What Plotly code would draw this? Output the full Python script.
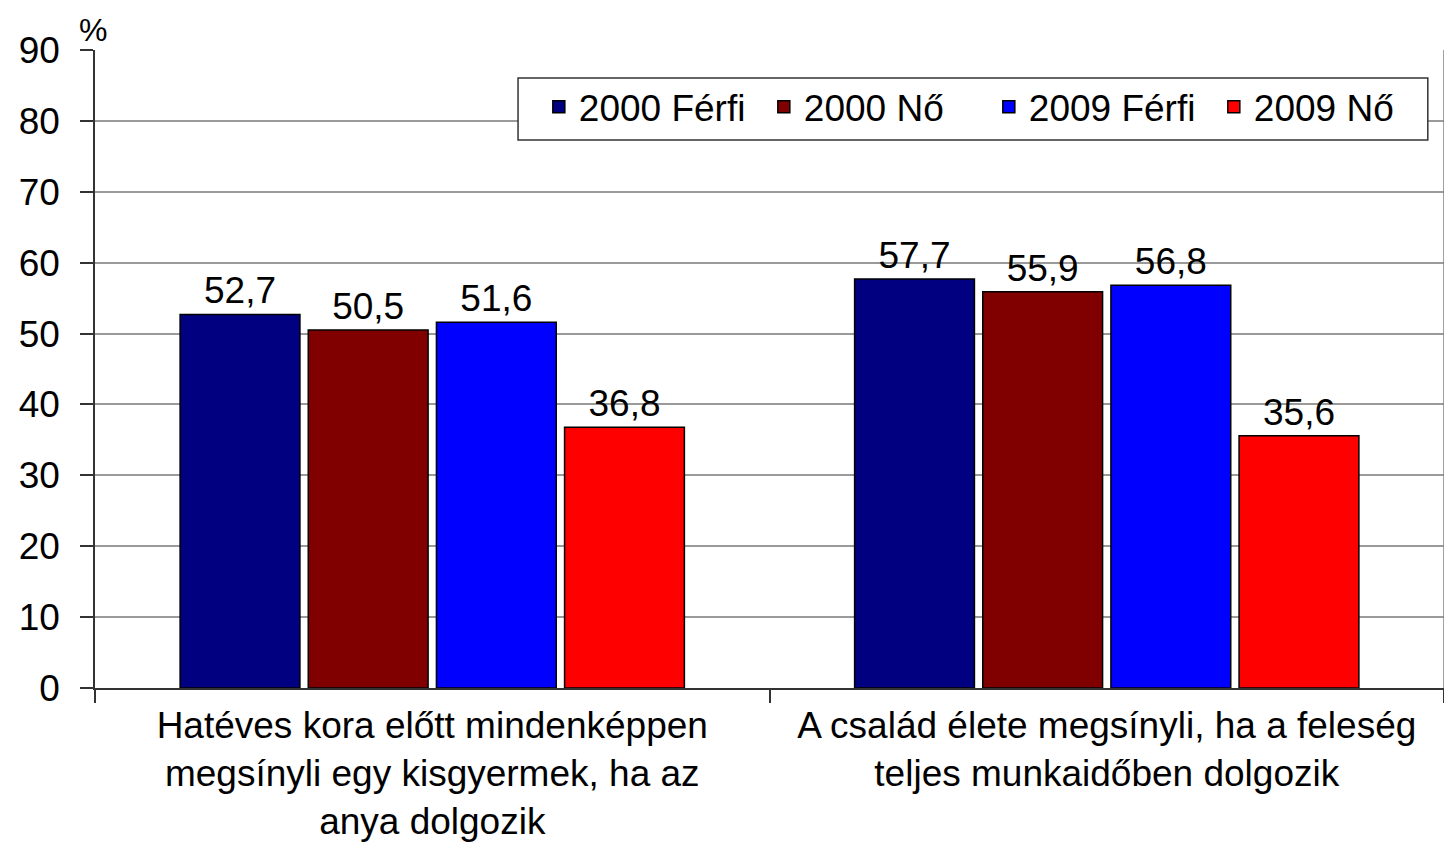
import plotly.graph_objects as go

# Data
categories = [
    "Hatéves kora előtt mindenképpen<br>megsínyli egy kisgyermek, ha az<br>anya dolgozik",
    "A család élete megsínyli, ha a feleség<br>teljes munkaidőben dolgozik",
]
series_names = ["2000 Férfi", "2000 Nő", "2009 Férfi", "2009 Nő"]
values_2000_ferfi = [52.7, 57.7]
values_2000_no = [50.5, 55.9]
values_2009_ferfi = [51.6, 56.8]
values_2009_no = [36.8, 35.6]
colors = ["#000080", "#800000", "#0000FF", "#FF0000"]

FONT = "Liberation Sans, Arial, sans-serif"

fig = go.Figure()
for name, vals, col in zip(series_names,
                           [values_2000_ferfi, values_2000_no, values_2009_ferfi, values_2009_no],
                           colors):
    fig.add_trace(go.Bar(
        x=categories,
        y=vals,
        name=name,
        marker=dict(color=col, line=dict(color="black", width=1.5)),
        texttemplate="%{y:.1f}",
        textposition="outside",
        textfont=dict(size=37, color="black", family=FONT),
        cliponaxis=False,
    ))

# right border of plot area
fig.add_shape(type="line", xref="paper", yref="paper", x0=1, x1=1, y0=0, y1=1,
              line=dict(color="#808080", width=1.5))

# legend frame (drawn as a shape so its width matches the original box)
fig.add_shape(type="rect", xref="paper", yref="paper",
              x0=0.3136, x1=0.988, y0=0.859, y1=0.956,
              fillcolor="white", line=dict(color="#333333", width=1.5), layer="above")

fig.add_annotation(text="%", xref="paper", yref="paper", x=0, y=1, xshift=-18, yshift=0,
                   xanchor="left", yanchor="bottom", showarrow=False,
                   font=dict(size=32, color="black", family=FONT))

# page body has an 8px margin, so the figure is a bit smaller than the window
fig.update_layout(
    width=1436, height=834,
    margin=dict(l=87, r=0, t=42, b=154),
    paper_bgcolor="white", plot_bgcolor="white",
    separators=", ",
    barmode="group",
    bargap=0.24,
    bargroupgap=0.065,
    font=dict(family=FONT, color="black"),
    legend=dict(
        orientation="h",
        x=0.329, y=0.959, xanchor="left", yanchor="top",
        borderwidth=0,
        bgcolor="rgba(0,0,0,0)",
        font=dict(size=37, family=FONT, color="black"),
        itemwidth=30,
        entrywidth=180,
    ),
    xaxis=dict(
        automargin=False,
        showline=True, linecolor="#333333", linewidth=1.5,
        ticks="outside", tickson="boundaries", ticklen=13,
        tickcolor="#333333", tickwidth=1.5,
        ticklabelstandoff=4,
        tickfont=dict(size=37, family=FONT, color="black"),
    ),
    yaxis=dict(
        automargin=False,
        range=[0, 90], dtick=10,
        showgrid=True, gridcolor="#9a9a9a", gridwidth=1.5,
        showline=True, linecolor="#333333", linewidth=1.5,
        ticks="outside", ticklen=13, tickcolor="#333333", tickwidth=1.5,
        ticklabelstandoff=13,
        tickfont=dict(size=37, family=FONT, color="black"),
        zeroline=False,
    ),
)

fig.write_html("out.html")
